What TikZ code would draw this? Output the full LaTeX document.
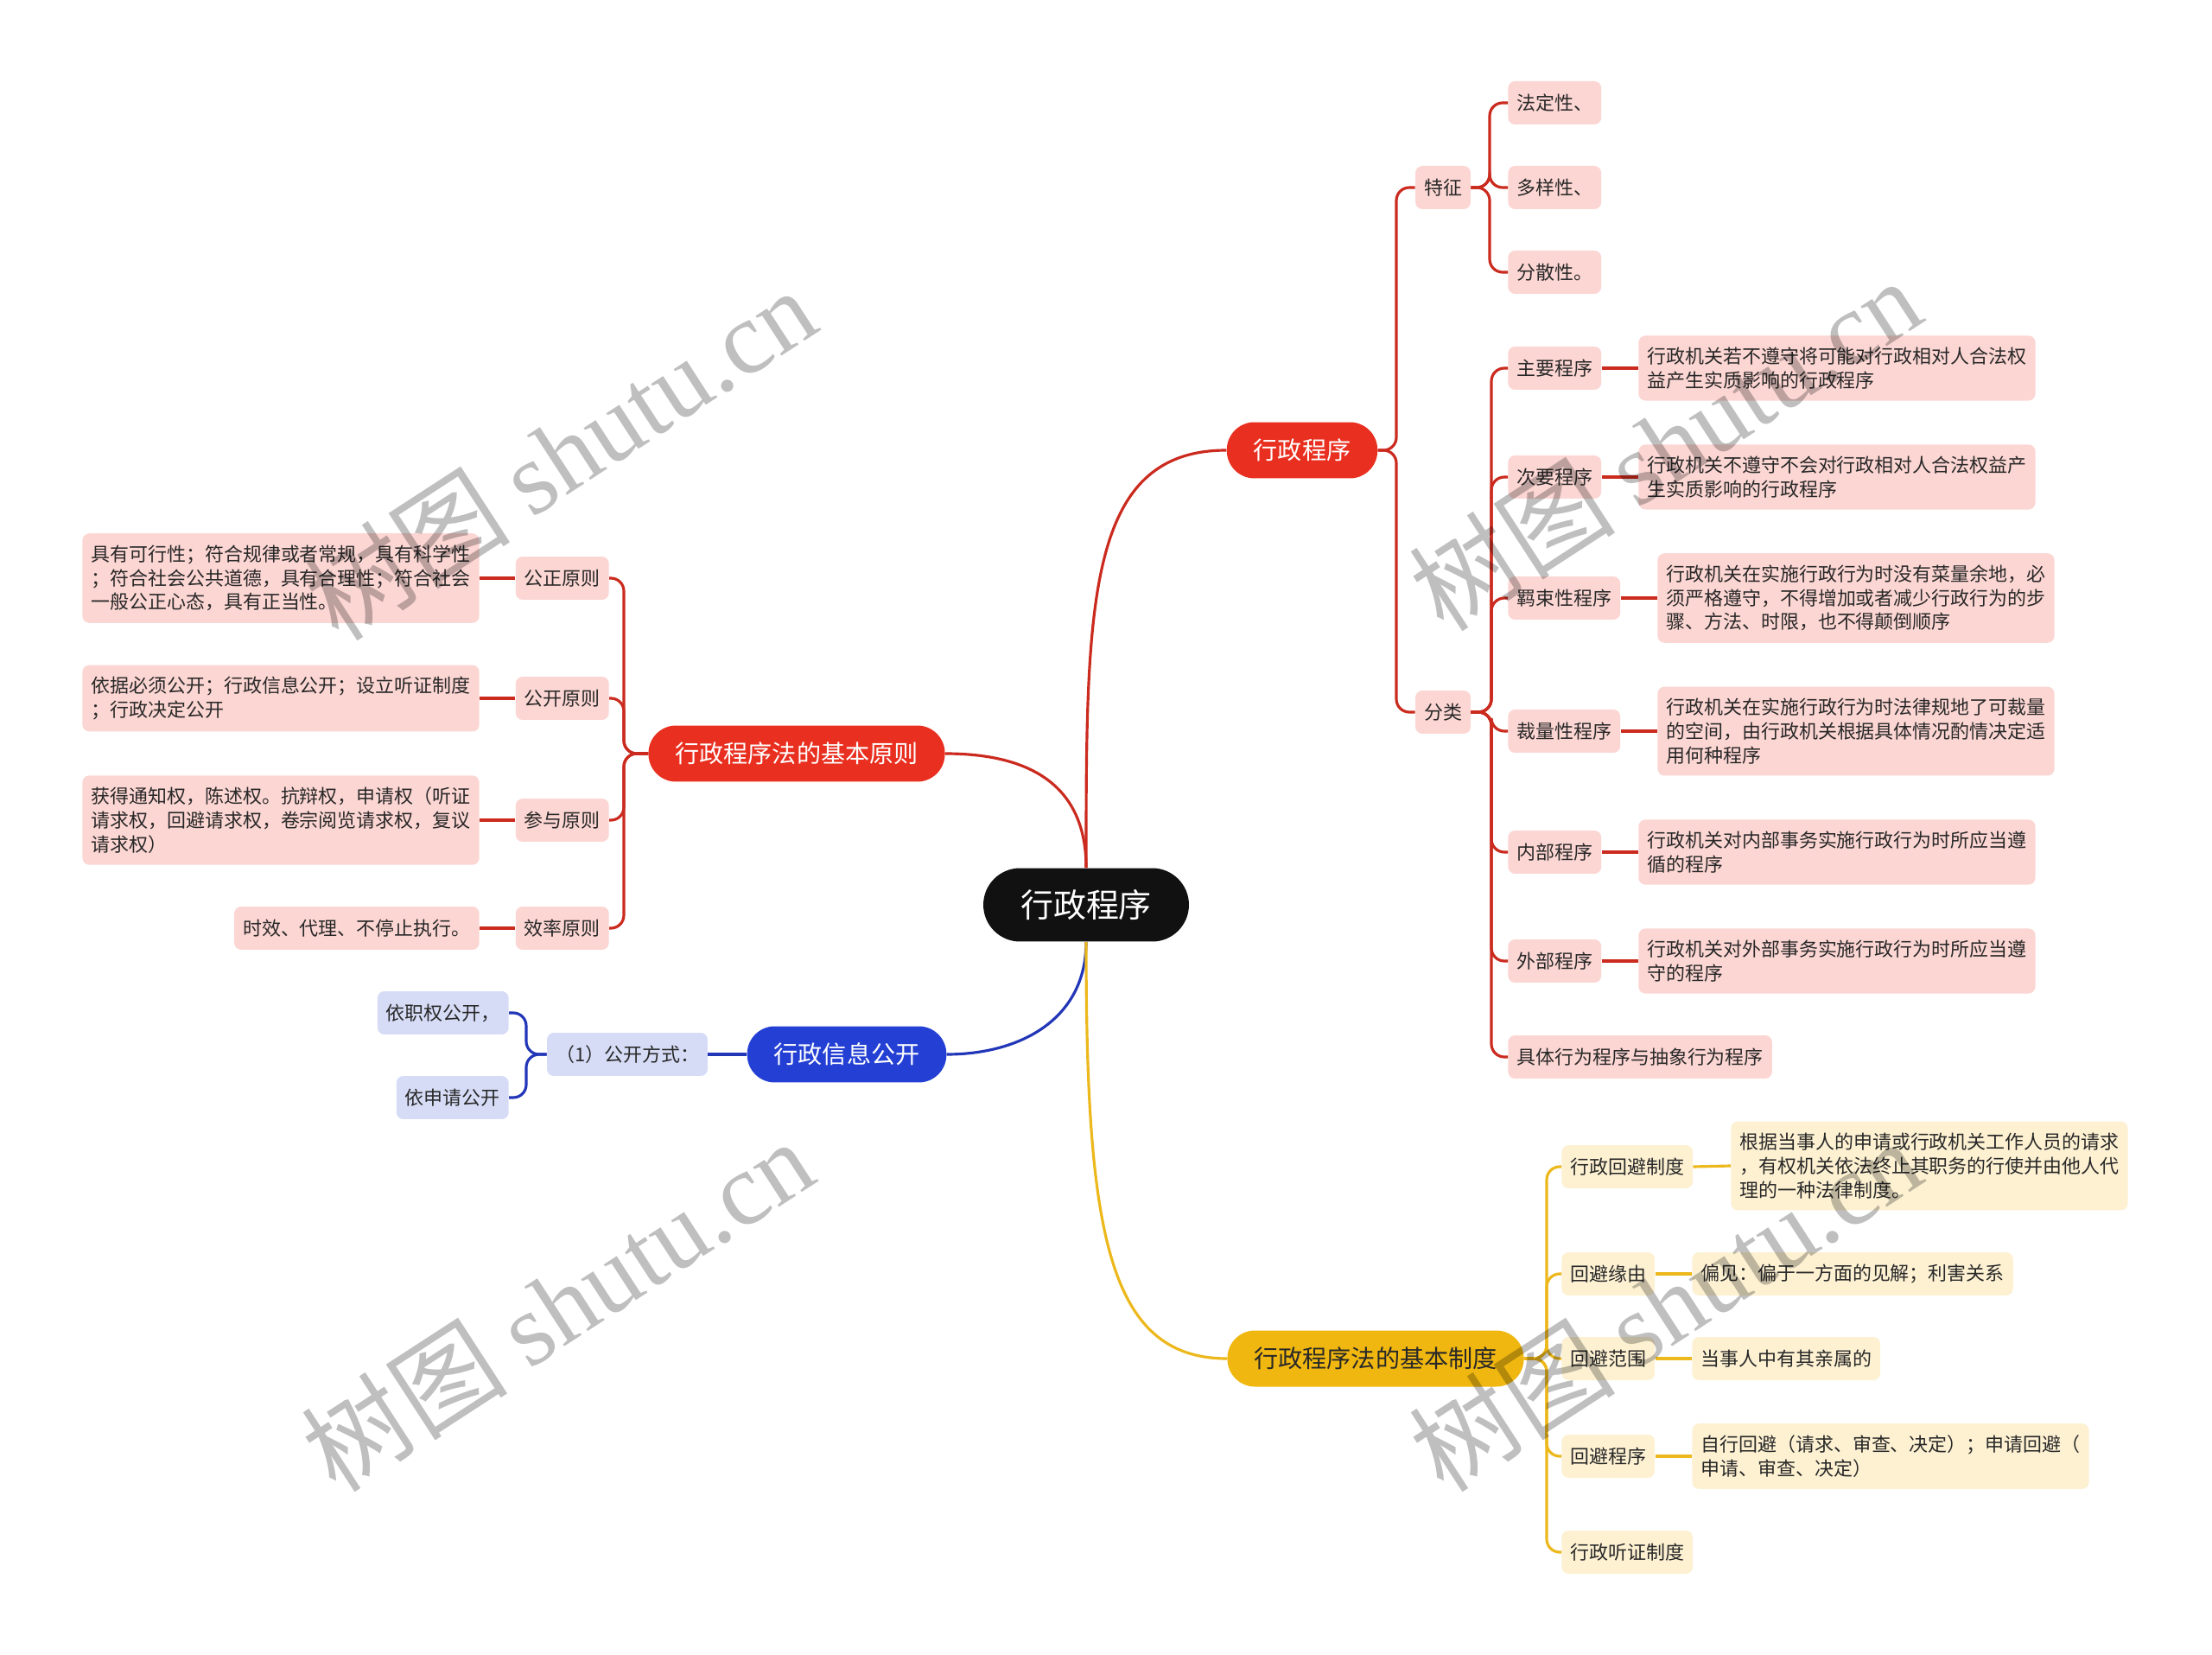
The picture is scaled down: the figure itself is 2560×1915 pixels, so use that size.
\documentclass[tikz,border=0pt]{standalone}
\usepackage{fontspec}
\setmainfont{Noto Sans CJK SC}
\newfontfamily\wmfont{Liberation Serif}
\usepackage{xcolor}
\usepackage{tikz}

\definecolor{rootblack}{RGB}{17,17,17}
\definecolor{redmain}{RGB}{233,47,31}
\definecolor{rededge}{RGB}{203,42,30}
\definecolor{redsoft}{RGB}{252,214,211}
\definecolor{bluemain}{RGB}{36,64,212}
\definecolor{blueedge}{RGB}{34,54,184}
\definecolor{bluesoft}{RGB}{214,220,246}
\definecolor{yellowmain}{RGB}{240,183,16}
\definecolor{yellowedge}{RGB}{236,184,28}
\definecolor{yellowsoft}{RGB}{253,241,210}
\definecolor{leaftext}{RGB}{40,40,40}

\begin{document}
\begin{tikzpicture}[
  x=0.02cm, y=-0.02cm,
  rootbox/.style={fill=rootblack, text=white, rounded corners=0.85cm,
    minimum width=4.76cm, minimum height=1.7cm, font=\fontsize{21.6}{26}\selectfont},
  topic/.style={rounded corners=0.64cm, minimum height=1.3cm, inner xsep=0.62cm,
    font=\fontsize{16}{19}\selectfont},
  redtopic/.style={topic, fill=redmain, text=white},
  bluetopic/.style={topic, fill=bluemain, text=white},
  yellowtopic/.style={topic, fill=yellowmain, text=leaftext},
  leaf/.style={rounded corners=0.16cm, minimum height=1cm, inner xsep=0.2cm,
    inner ysep=0.27cm, align=left, text=leaftext, font=\fontsize{12.5}{15.8}\selectfont},
  redleaf/.style={leaf, fill=redsoft},
  blueleaf/.style={leaf, fill=bluesoft},
  yellowleaf/.style={leaf, fill=yellowsoft},
  link/.style={line width=1.8pt, rounded corners=0.3cm},
  redlink/.style={link, draw=rededge},
  bluelink/.style={link, draw=blueedge},
  yellowlink/.style={link, draw=yellowedge},
  watermark/.style={rotate=33, text=black, text opacity=0.25,
    font=\fontsize{68}{68}\selectfont}
]
\useasboundingbox[fill=white] (0,0) rectangle (2560,1915);

\node[rootbox] (root) at (1257,1047) {行政程序};
\node[redtopic] (proc) at (1507,521) {行政程序};
\node[redtopic] (prin) at (922,872) {行政程序法的基本原则};
\node[bluetopic] (info) at (980,1220) {行政信息公开};
\node[yellowtopic] (sys) at (1592,1572) {行政程序法的基本制度};

\node[redleaf] (feat) at (1670,217) {特征};
\node[redleaf] (cls) at (1670,824) {分类};
\node[redleaf, anchor=west] (legal) at (1745,119) {法定性、};
\node[redleaf, anchor=west] (varied) at (1745,217) {多样性、};
\node[redleaf, anchor=west] (spread) at (1745,315) {分散性。};

\node[redleaf, anchor=west] (major) at (1745,426) {主要程序};
\node[redleaf, anchor=west] (minor) at (1745,552) {次要程序};
\node[redleaf, anchor=west] (bound) at (1745,692) {羁束性程序};
\node[redleaf, anchor=west] (discr) at (1745,846) {裁量性程序};
\node[redleaf, anchor=west] (inner) at (1745,986) {内部程序};
\node[redleaf, anchor=west] (outer) at (1745,1112) {外部程序};
\node[redleaf, anchor=west] (concrete) at (1745,1223) {具体行为程序与抽象行为程序};

\node[redleaf, anchor=west] (major-d) at (1896,426) {行政机关若不遵守将可能对行政相对人合法权\\益产生实质影响的行政程序};
\node[redleaf, anchor=west] (minor-d) at (1896,552) {行政机关不遵守不会对行政相对人合法权益产\\生实质影响的行政程序};
\node[redleaf, anchor=west] (bound-d) at (1918,692) {行政机关在实施行政行为时没有菜量余地，必\\须严格遵守，不得增加或者减少行政行为的步\\骤、方法、时限，也不得颠倒顺序};
\node[redleaf, anchor=west] (discr-d) at (1918,846) {行政机关在实施行政行为时法律规地了可裁量\\的空间，由行政机关根据具体情况酌情决定适\\用何种程序};
\node[redleaf, anchor=west] (inner-d) at (1896,986) {行政机关对内部事务实施行政行为时所应当遵\\循的程序};
\node[redleaf, anchor=west] (outer-d) at (1896,1112) {行政机关对外部事务实施行政行为时所应当遵\\守的程序};

\node[redleaf, anchor=east] (fair) at (705,669) {公正原则};
\node[redleaf, anchor=east] (open) at (705,808) {公开原则};
\node[redleaf, anchor=east] (part) at (705,949) {参与原则};
\node[redleaf, anchor=east] (effi) at (705,1074) {效率原则};
\node[redleaf, anchor=east] (fair-d) at (555,669) {具有可行性；符合规律或者常规，具有科学性\\；符合社会公共道德，具有合理性；符合社会\\一般公正心态，具有正当性。};
\node[redleaf, anchor=east] (open-d) at (555,808) {依据必须公开；行政信息公开；设立听证制度\\；行政决定公开};
\node[redleaf, anchor=east] (part-d) at (555,949) {获得通知权，陈述权。抗辩权，申请权（听证\\请求权，回避请求权，卷宗阅览请求权，复议\\请求权）};
\node[redleaf, anchor=east] (effi-d) at (555,1074) {时效、代理、不停止执行。};

\node[blueleaf] (mode) at (726,1220) {（1）公开方式：};
\node[blueleaf, anchor=east] (duty) at (589,1172) {依职权公开，};
\node[blueleaf, anchor=east] (apply) at (589,1270) {依申请公开};

\node[yellowleaf, anchor=west] (recusal) at (1807,1350) {行政回避制度};
\node[yellowleaf, anchor=west] (cause) at (1807,1474) {回避缘由};
\node[yellowleaf, anchor=west] (scope) at (1807,1572) {回避范围};
\node[yellowleaf, anchor=west] (steps) at (1807,1685) {回避程序};
\node[yellowleaf, anchor=west] (hearing) at (1807,1796) {行政听证制度};
\node[yellowleaf, anchor=west] (recusal-d) at (2003,1349) {根据当事人的申请或行政机关工作人员的请求\\，有权机关依法终止其职务的行使并由他人代\\理的一种法律制度。};
\node[yellowleaf, anchor=west] (cause-d) at (1958,1474) {偏见：偏于一方面的见解；利害关系};
\node[yellowleaf, anchor=west] (scope-d) at (1958,1572) {当事人中有其亲属的};
\node[yellowleaf, anchor=west] (steps-d) at (1958,1685) {自行回避（请求、审查、决定）；申请回避（\\申请、审查、决定）};

\coordinate (proc-sp) at (1616,521);
\coordinate (feat-sp) at (1724,217);
\coordinate (cls-sp) at (1726,824);
\coordinate (prin-sp) at (722,872);
\coordinate (mode-sp) at (609,1220);
\coordinate (sys-sp) at (1790,1572);

\draw[redlink] (root.north) .. controls (1257,700) and (1257,521) .. (proc.west);
\draw[redlink] (root.north) .. controls (1257,900) and (1180,872) .. (prin.east);
\draw[bluelink] (root.south) .. controls (1257,1180) and (1180,1220) .. (info.east);
\draw[yellowlink] (root.south) .. controls (1257,1420) and (1280,1572) .. (sys.west);

\foreach \k in {feat,cls}
  \draw[redlink] (proc.east) -- (proc-sp) |- (\k.west);
\foreach \k in {legal,varied,spread}
  \draw[redlink] (feat.east) -- (feat-sp) |- (\k.west);
\foreach \k in {major,minor,bound,discr,inner,outer,concrete}
  \draw[redlink] (cls.east) -- (cls-sp) |- (\k.west);
\foreach \k in {major,minor,bound,discr,inner,outer}
  \draw[redlink] (\k.east) -- (\k-d.west);

\foreach \k in {fair,open,part,effi}
  \draw[redlink] (prin.west) -- (prin-sp) |- (\k.east);
\foreach \k in {fair,open,part,effi}
  \draw[redlink] (\k.west) -- (\k-d.east);

\draw[bluelink] (info.west) -- (mode.east);
\foreach \k in {duty,apply}
  \draw[bluelink] (mode.west) -- (mode-sp) |- (\k.east);

\foreach \k in {recusal,cause,scope,steps,hearing}
  \draw[yellowlink] (sys.east) -- (sys-sp) |- (\k.west);
\foreach \k in {recusal,cause,scope,steps}
  \draw[yellowlink] (\k.east) -- (\k-d.west);

\node[watermark] (wm1) at (648,525) {树图 {\wmfont shutu.cn}};
\node[watermark] (wm2) at (645,1510) {树图 {\wmfont shutu.cn}};
\node[watermark] (wm3) at (1927,514) {树图 {\wmfont shutu.cn}};
\node[watermark] (wm4) at (1927,1510) {树图 {\wmfont shutu.cn}};
\end{tikzpicture}
\end{document}
